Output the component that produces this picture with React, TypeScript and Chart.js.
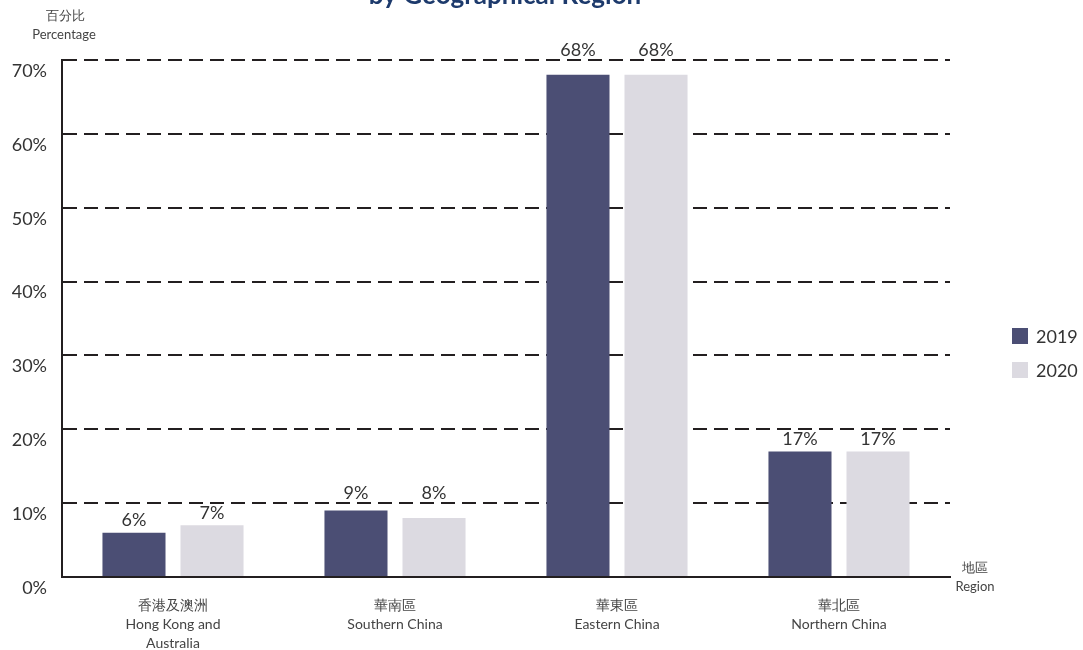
import React, { useEffect, useRef } from "react";
import { Chart, registerables } from "chart.js";

Chart.register(...registerables);

const categories: string[][] = [
  ["香港及澳洲", "Hong Kong and", "Australia"],
  ["華南區", "Southern China"],
  ["華東區", "Eastern China"],
  ["華北區", "Northern China"],
];
const series2019 = [6, 9, 68, 17];
const series2020 = [7, 8, 68, 17];
const seriesNames = ["2019", "2020"];
const colors = ["#4b4e74", "#dcdae1"];
const yTicksMax = 70;
const yStep = 10;
const titleText = "by Geographical Region";
const yTitle = ["百分比", "Percentage"];
const xTitle = ["地區", "Region"];

const FONT = "Lato, 'Open Sans', sans-serif";

const overlayPlugin = {
  id: "overlay",
  afterDatasetsDraw(chart: any) {
    const ctx = chart.ctx;
    const yScale = chart.scales.y;
    const gridYs: number[] = [];
    for (let v = 0; v <= yTicksMax; v += yStep) gridYs.push(yScale.getPixelForValue(v));
    ctx.save();
    // data labels
    ctx.fillStyle = "#333";
    ctx.font = `18px ${FONT}`;
    ctx.textAlign = "center";
    ctx.textBaseline = "middle";
    chart.data.datasets.forEach((ds: any, di: number) => {
      const meta = chart.getDatasetMeta(di);
      meta.data.forEach((bar: any, i: number) => {
        let cy = bar.y - 12;
        for (const gy of gridYs) {
          if (cy - 8 <= gy && cy + 8 >= gy) cy = gy - 10;
        }
        ctx.fillText(ds.data[i] + "%", bar.x, cy);
      });
    });
    // title
    ctx.fillStyle = "#1d3a6c";
    ctx.textBaseline = "alphabetic";
    ctx.font = `bold 26px ${FONT}`;
    ctx.fillText(titleText, 505, 4);
    // axis titles
    ctx.fillStyle = "#444";
    ctx.font = `13px ${FONT}`;
    ctx.textBaseline = "middle";
    ctx.fillText(yTitle[0], 65, 16);
    ctx.fillText(yTitle[1], 64, 35);
    ctx.fillText(xTitle[0], 975, 568);
    ctx.fillText(xTitle[1], 975, 587);
    // legend
    ctx.font = `18px ${FONT}`;
    ctx.textAlign = "left";
    seriesNames.forEach((n, i) => {
      const cy = 336 + i * 34;
      ctx.fillStyle = colors[i];
      ctx.fillRect(1012, cy - 8, 16, 16);
      ctx.fillStyle = "#333";
      ctx.fillText(n, 1036, cy + 1);
    });
    ctx.restore();
  },
};

export default function App() {
  const ref = useRef<HTMLCanvasElement>(null);
  useEffect(() => {
    if (!ref.current) return;
    const chart = new Chart(ref.current, {
      type: "bar",
      data: {
        labels: categories,
        datasets: [
          {
            label: seriesNames[0],
            data: series2019,
            backgroundColor: colors[0],
            categoryPercentage: 0.703,
            barPercentage: 0.808,
          },
          {
            label: seriesNames[1],
            data: series2020,
            backgroundColor: colors[1],
            categoryPercentage: 0.703,
            barPercentage: 0.808,
          },
        ],
      },
      options: {
        responsive: false,
        animation: false,
        layout: { padding: { top: 60, right: 133, left: 0, bottom: 0 } },
        plugins: { legend: { display: false }, tooltip: { enabled: false } },
        scales: {
          x: {
            grid: { display: false, drawTicks: false },
            border: { display: true, color: "#231f20", width: 2 },
            ticks: {
              color: "#444",
              font: { family: FONT, size: 14, lineHeight: 1.35 },
              padding: 19,
              maxRotation: 0,
              autoSkip: false,
            },
            afterFit: (s: any) => {
              s.height = 73;
            },
          },
          y: {
            min: 0,
            max: yTicksMax,
            grid: { color: "#231f20", lineWidth: 2, drawTicks: false },
            border: { display: true, color: "#231f20", width: 2, dash: [14, 7] },
            ticks: {
              stepSize: yStep,
              color: "#333",
              font: { family: FONT, size: 18 },
              padding: 15,
              labelOffset: 11,
              callback: (v: any) => v + "%",
            },
            afterFit: (s: any) => {
              s.width = 62;
            },
          },
        },
      },
      plugins: [overlayPlugin],
    });
    return () => chart.destroy();
  }, []);
  return (
    <div style={{ position: "fixed", left: 0, top: 0, width: 1083, height: 650, background: "#fff" }}>
      <canvas ref={ref} width={1083} height={650} />
    </div>
  );
}
